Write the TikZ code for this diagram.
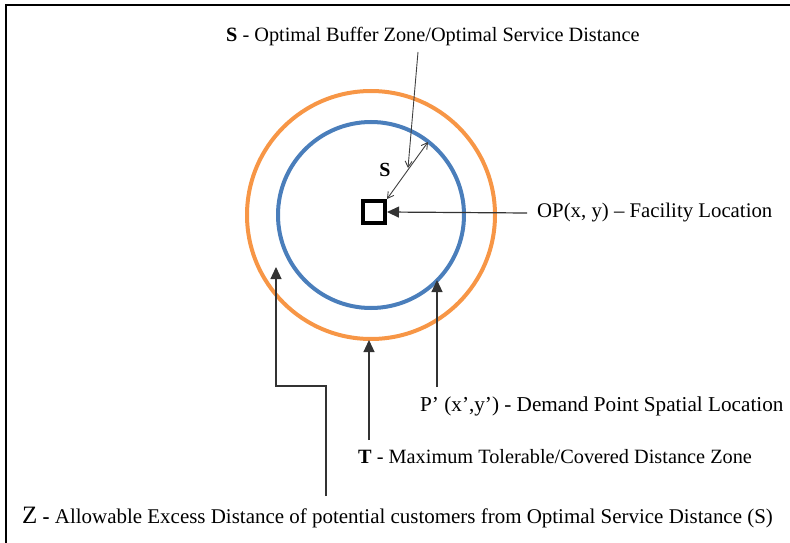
\documentclass[tikz,border=0pt]{standalone}
\usepackage{fontspec}
\setmainfont{Liberation Serif}
\usetikzlibrary{arrows.meta,positioning}

\definecolor{ringblue}{HTML}{4A7EBB}
\definecolor{ringorange}{HTML}{F79646}

\begin{document}
\begin{tikzpicture}[x=1pt,y=-1pt,
  ptr/.style={draw=black!80,line width=1.2pt,-{Triangle[length=12pt,width=11pt]}},
  sptr/.style={draw=black!75,line width=0.9pt,-{Straight Barb[length=6pt,width=7pt]}},
  lbl/.style={anchor=west,inner sep=0pt}]
\useasboundingbox (0,0) rectangle (790,543);
% frame
\draw[line width=2.5pt] (6,543) -- (6,5) -- (790,5);
% rings
\coordinate (o) at (371,215);
\draw[ringorange,line width=4pt] (o) circle[radius=124pt];
\draw[ringblue,line width=4pt] (o) circle[radius=93pt];
\node[draw,line width=4pt,minimum size=22pt,inner sep=0pt] (op) at (374,212) {};
% labels
\node[lbl,font=\fontsize{20.3}{22}\selectfont] (stxt) at (226,37) {\textbf{S} - Optimal Buffer Zone/Optimal Service Distance};
\node[font=\fontsize{20}{22}\selectfont\bfseries] (s) at (385,170) {S};
\node[lbl,font=\fontsize{20.8}{22}\selectfont] (optxt) at (537,213) {OP(x, y) – Facility Location};
\node[lbl,font=\fontsize{21.2}{22}\selectfont] (ptxt) at (420,406) {P’ (x’,y’) - Demand Point Spatial Location};
\node[lbl,font=\fontsize{20.3}{22}\selectfont] (ttxt) at (358,457) {\textbf{T} - Maximum Tolerable/Covered Distance Zone};
\node[lbl,font=\fontsize{20.95}{22}\selectfont] (ztxt) at (22,518) {{\fontsize{25}{26}\selectfont Z} \textbf{-} Allowable Excess Distance of potential customers from Optimal Service Distance (S)};
% arrows
\coordinate (s0) at (418,52);
\coordinate (s1) at (408,168);
\coordinate (b) at (428,142);
\draw[sptr] (s0) -- (s1);
\draw[sptr,{Straight Barb[length=6pt,width=7pt]}-{Straight Barb[length=6pt,width=7pt]}] (op.north east) -- (b);
\coordinate (opa) at (527,213);
\draw[ptr] (opa) -- (op.east);
\coordinate (p0) at (437,387);
\coordinate (p1) at (437,280);
\draw[ptr] (p0) -- (p1);
\coordinate (t0) at (369,440);
\coordinate (t1) at (369,340);
\draw[ptr] (t0) -- (t1);
\coordinate (z0) at (326,496);
\coordinate (z1) at (276,267);
\draw[ptr] (z0) |- (276,386) -- (z1);
\end{tikzpicture}
\end{document}
